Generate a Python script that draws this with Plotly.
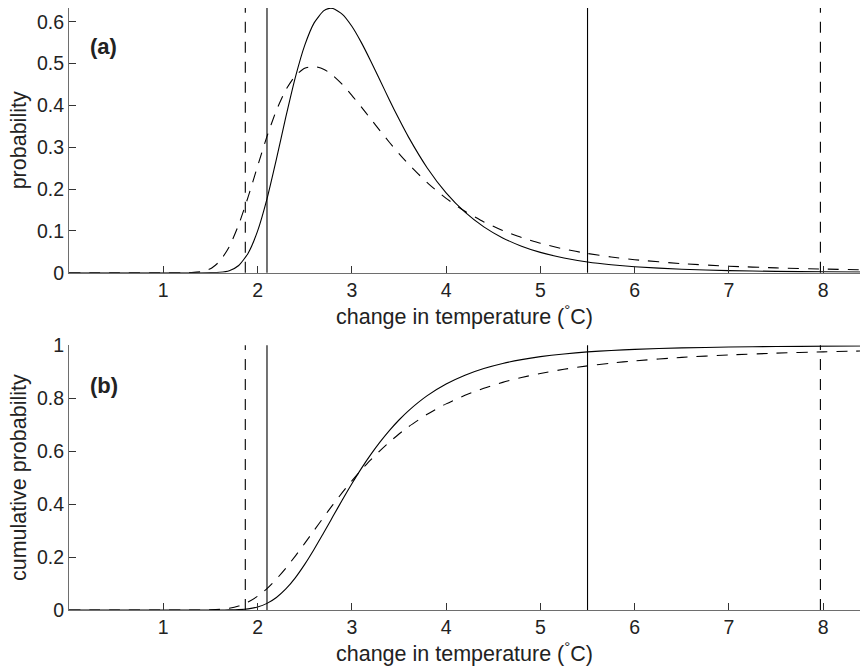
import plotly.graph_objects as go

# temperature change (°C)
temps = [0.0, 0.5, 1.0, 1.2, 1.3, 1.4, 1.5, 1.6, 1.7, 1.8, 1.9, 2.0, 2.1, 2.2, 2.3,
         2.4, 2.5, 2.6, 2.7, 2.75, 2.8, 2.9, 3.0, 3.1, 3.2, 3.3, 3.4, 3.5, 3.6,
         3.8, 4.0, 4.2, 4.4, 4.6, 4.8, 5.0, 5.25, 5.5, 5.75, 6.0, 6.5, 7.0,
         7.5, 8.0, 8.4]

# (a) probability density
pdf_solid = [0.0, 0.0, 0.0, 0.0, 0.0, 0.0, 0.0001, 0.0009, 0.0048, 0.0173, 0.0466,
             0.0994, 0.1765, 0.2714, 0.3724, 0.4666, 0.5436, 0.5974, 0.6261, 0.6316,
             0.6316, 0.6178, 0.5893, 0.5508, 0.5064, 0.4595, 0.4125, 0.3673, 0.3248,
             0.2505, 0.1909, 0.1447, 0.1096, 0.0832, 0.0634, 0.0486, 0.0352, 0.0257,
             0.0191, 0.0143, 0.0083, 0.0050, 0.0032, 0.0021, 0.0015]
pdf_dashed = [0.0, 0.0, 0.0, 0.0, 0.0003, 0.0022, 0.0094, 0.0277, 0.0624, 0.1148,
              0.1813, 0.2545, 0.3259, 0.3883, 0.4372, 0.4707, 0.4888, 0.4934, 0.4867,
              0.4800, 0.4713, 0.4499, 0.4243, 0.3965, 0.3678, 0.3392, 0.3114, 0.2849,
              0.2599, 0.2154, 0.1778, 0.1468, 0.1215, 0.1008, 0.0840, 0.0703, 0.0566,
              0.0460, 0.0377, 0.0311, 0.0217, 0.0156, 0.0115, 0.0087, 0.0070]

# (b) cumulative probability
cdf_solid = [0.0, 0.0, 0.0, 0.0, 0.0, 0.0, 0.0, 0.0, 0.0003, 0.0013, 0.0043,
             0.0114, 0.0250, 0.0473, 0.0795, 0.1215, 0.1722, 0.2295, 0.2909, 0.3220,
             0.3539, 0.4166, 0.4770, 0.5340, 0.5870, 0.6352, 0.6788, 0.7178, 0.7524,
             0.8097, 0.8536, 0.8870, 0.9122, 0.9314, 0.9459, 0.9571, 0.9674, 0.9750,
             0.9805, 0.9847, 0.9902, 0.9934, 0.9954, 0.9967, 0.9974]
cdf_dashed = [0.0, 0.0, 0.0, 0.0, 0.0, 0.0001, 0.0006, 0.0024, 0.0067, 0.0154,
              0.0302, 0.0519, 0.0810, 0.1168, 0.1582, 0.2037, 0.2518, 0.3010, 0.3501,
              0.3742, 0.3981, 0.4442, 0.4879, 0.5290, 0.5672, 0.6025, 0.6351, 0.6648,
              0.6921, 0.7395, 0.7787, 0.8111, 0.8378, 0.8600, 0.8784, 0.8937, 0.9095,
              0.9223, 0.9327, 0.9413, 0.9544, 0.9636, 0.9703, 0.9753, 0.9784]

# 95% range bounds
bounds_solid = [2.1, 5.5]
bounds_dashed = [1.87, 7.97]

x_ticks = [1, 2, 3, 4, 5, 6, 7, 8]
y1_ticks = [0, 0.1, 0.2, 0.3, 0.4, 0.5, 0.6]
y2_ticks = [0, 0.2, 0.4, 0.6, 0.8, 1]

FONT = "Liberation Sans, Arial, sans-serif"
DASH = "11px,9px"
AXCOL = "#6e6e6e"
TICKSIZE = 19.5
TITLESIZE = 21.5

fig = go.Figure()

fig.add_trace(go.Scatter(x=temps, y=pdf_solid, mode="lines", line=dict(color="black", width=1.1, shape="spline", smoothing=0.6), xaxis="x", yaxis="y", showlegend=False))
fig.add_trace(go.Scatter(x=temps, y=pdf_dashed, mode="lines", line=dict(color="black", width=1.1, dash=DASH, shape="spline", smoothing=0.6), xaxis="x", yaxis="y", showlegend=False))
fig.add_trace(go.Scatter(x=temps, y=cdf_solid, mode="lines", line=dict(color="black", width=1.1, shape="spline", smoothing=0.6), xaxis="x2", yaxis="y2", showlegend=False))
fig.add_trace(go.Scatter(x=temps, y=cdf_dashed, mode="lines", line=dict(color="black", width=1.1, dash=DASH, shape="spline", smoothing=0.6), xaxis="x2", yaxis="y2", showlegend=False))

for xr, yr in (("x", "y domain"), ("x2", "y2 domain")):
    for b in bounds_solid:
        fig.add_shape(type="line", xref=xr, yref=yr, x0=b, x1=b, y0=0, y1=1,
                      line=dict(color="black", width=1.1))
    for b in bounds_dashed:
        fig.add_shape(type="line", xref=xr, yref=yr, x0=b, x1=b, y0=0, y1=1,
                      line=dict(color="black", width=1.1, dash=DASH))

axis_common = dict(showgrid=False, zeroline=False, showline=True, linecolor=AXCOL,
                   linewidth=1, ticks="inside", ticklen=7, tickcolor="#333",
                   automargin=False,
                   tickfont=dict(family=FONT, size=TICKSIZE, color="#222"))

xtitle = "change in temperature (<sup>°</sup>C)"

fig.update_layout(
    width=860, height=667,
    margin=dict(l=69, r=0, t=8, b=57),
    plot_bgcolor="white", paper_bgcolor="white",
    font=dict(family=FONT, color="#222"),
    xaxis=dict(domain=[0, 1], range=[0, 8.39], anchor="y", tickvals=x_ticks,
               title=dict(text=xtitle, font=dict(family=FONT, size=TITLESIZE), standoff=4),
               **axis_common),
    yaxis=dict(domain=[0.5603, 1], range=[0, 0.633], anchor="x", tickvals=y1_ticks,
               title=dict(text="probability", font=dict(family=FONT, size=TITLESIZE), standoff=4),
               **axis_common),
    xaxis2=dict(domain=[0, 1], range=[0, 8.39], anchor="y2", tickvals=x_ticks,
                title=dict(text=xtitle, font=dict(family=FONT, size=TITLESIZE), standoff=4),
                **axis_common),
    yaxis2=dict(domain=[0, 0.4397], range=[0, 1], anchor="x2", tickvals=y2_ticks,
                title=dict(text="cumulative probability", font=dict(family=FONT, size=TITLESIZE), standoff=4),
                **axis_common),
    annotations=[
        dict(text="<b>(a)</b>", xref="x", yref="y", x=0.205, y=0.541, xanchor="left",
             yanchor="middle", showarrow=False, font=dict(family=FONT, size=22, color="#222")),
        dict(text="<b>(b)</b>", xref="x2", yref="y2", x=0.205, y=0.85, xanchor="left",
             yanchor="middle", showarrow=False, font=dict(family=FONT, size=22, color="#222")),
    ],
)

fig.write_html(
    "out.html",
    config={"displayModeBar": False},
    post_script="document.body.style.margin='0';document.body.style.padding='0';"
                "document.body.style.overflow='hidden';",
)
